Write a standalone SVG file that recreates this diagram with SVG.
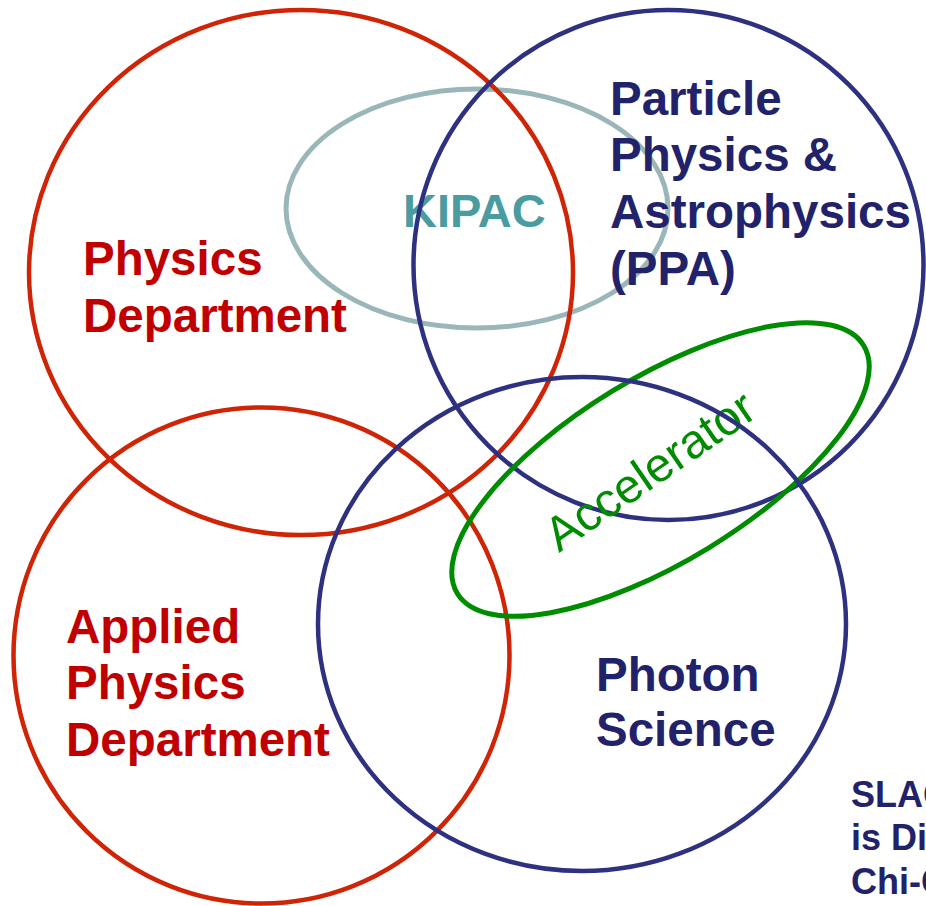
<svg xmlns="http://www.w3.org/2000/svg" width="926" height="906" viewBox="0 0 926 906">
<style>
.red{fill:none;stroke:#CF2406;stroke-width:4.5}
.navy{fill:none;stroke:#2E3180;stroke-width:4.5}
.kip{fill:none;stroke:#9BB6B9;stroke-width:5}
.grn{fill:none;stroke:#008C00;stroke-width:5}
text{font-family:"Liberation Sans",Arial,sans-serif;font-weight:bold;font-size:47.5px}
.tr{fill:#C00000}
.tn{fill:#22226B}
.tk{fill:#4A9CA0;font-size:47px}
.tg{fill:#008C00;font-weight:normal;font-size:48px}
.ts{fill:#22226B;font-size:36px}
</style>
<rect width="926" height="906" fill="#ffffff"/>
<g id="kipac">
<ellipse class="kip" cx="477" cy="208.5" rx="191" ry="119.5"/>
<text class="tk" x="403" y="227">KIPAC</text>
</g>
<g id="physics-department">
<ellipse class="red" cx="301" cy="272.5" rx="272" ry="262.5"/>
<text class="tr" x="83" y="275">Physics</text>
<text class="tr" x="83" y="332">Department</text>
</g>
<g id="ppa">
<circle class="navy" cx="668.5" cy="265" r="255"/>
<text class="tn" x="610" y="115">Particle</text>
<text class="tn" x="610" y="171">Physics &amp;</text>
<text class="tn" x="610" y="228">Astrophysics</text>
<text class="tn" x="610" y="285">(PPA)</text>
</g>
<g id="applied-physics-department">
<circle class="red" cx="261.5" cy="655.5" r="248"/>
<text class="tr" x="66" y="643">Applied</text>
<text class="tr" x="66" y="699">Physics</text>
<text class="tr" x="66" y="756">Department</text>
</g>
<g id="accelerator">
<text class="tg" transform="translate(559,553) rotate(-34.5)">Accelerator</text>
<ellipse class="grn" cx="660.5" cy="469.5" rx="238" ry="92" transform="rotate(-31.4 660.5 469.5)"/>
</g>
<g id="photon-science">
<ellipse class="navy" cx="582" cy="624" rx="264" ry="247"/>
<text class="tn" x="596" y="691">Photon</text>
<text class="tn" x="596" y="746">Science</text>
</g>
<g id="slac-note">
<text class="ts" x="851" y="807">SLAC</text>
<text class="ts" x="851" y="850">is Di</text>
<text class="ts" x="851" y="894">Chi-C</text>
</g>
<g id="connectors"/>
</svg>
